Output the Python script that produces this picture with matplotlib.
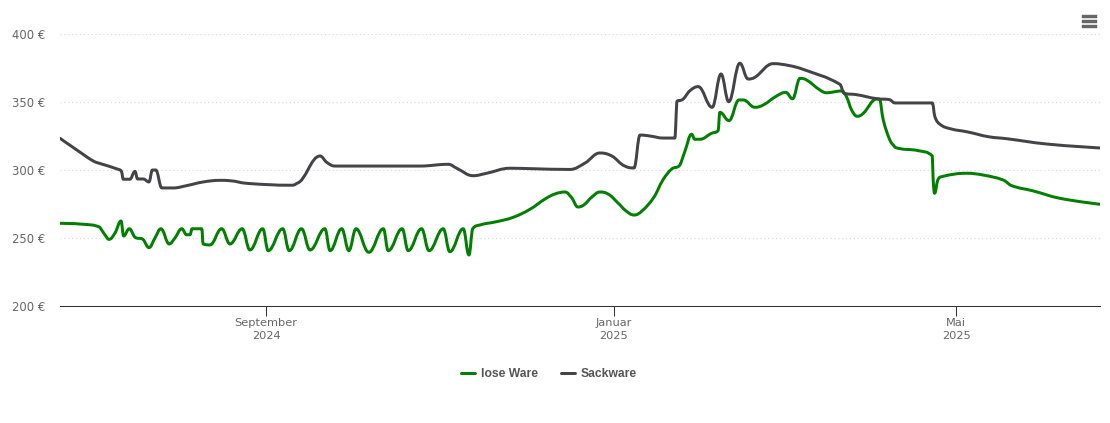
"""
plot.py - Preisverlauf lose Ware / Sackware
"""
import numpy as np
import pandas as pd
import matplotlib
matplotlib.use('Agg')
import matplotlib.pyplot as plt
import matplotlib.dates as mdates
from matplotlib.lines import Line2D
from matplotlib.patches import PathPatch, FancyBboxPatch
from matplotlib.path import Path

plt.rcParams['font.family'] = ['DejaVu Sans']

START = pd.Timestamp('2024-06-20 18:00')
END_DAY = 364.7

# (Tage seit START, Preis in Euro)
LOSE_WARE = [
    (0, 260.8), (8.1, 260.1), (14.0, 257.9), (15.8, 252.2), (17.2, 249.0), (19.3, 253.7),
    (21.4, 262.5), (22.3, 251.5), (24.3, 256.8), (26.3, 250.5), (29.1, 249.0), (31.2, 242.9),
    (33.3, 250.0), (35.4, 256.8), (38.3, 245.6), (40.3, 250.0), (42.7, 256.8), (44.4, 252.4),
    (45.6, 252.4), (46.3, 256.8), (49.7, 256.8), (50.2, 245.6), (52.6, 244.9), (56.7, 256.8),
    (59.6, 245.6), (63.9, 256.8), (66.6, 241.2), (71.1, 256.8), (73.0, 240.7), (78.1, 256.8),
    (80.4, 240.7), (84.7, 256.8), (87.7, 241.2), (92.9, 256.8), (94.7, 240.7), (98.8, 256.8),
    (101.3, 240.7), (103.8, 256.8), (108.3, 239.5), (113.4, 256.8), (115.1, 240.7), (120.0, 256.8),
    (122.1, 240.7), (126.8, 256.8), (129.4, 240.7), (134.4, 256.8), (136.7, 239.9), (141.4, 256.8),
    (143.4, 237.5), (144.7, 256.8), (147.3, 259.6), (153.1, 262.0), (158.9, 265.2), (164.8, 271.1),
    (170.1, 278.7), (173.6, 282.4), (177.1, 283.8), (179.5, 279.4), (181.6, 272.8), (183.7, 274.3),
    (186.5, 280.1), (189.3, 283.8), (192.1, 282.4), (195.7, 275.7), (198.5, 269.9), (201.3, 266.9),
    (204.1, 269.9), (208.3, 280.1), (211.4, 292.6), (214.5, 300.7), (217.4, 303.7), (219.1, 313.5),
    (221.5, 326.3), (222.6, 322.6), (224.4, 322.6), (228.5, 327.0), (230.8, 328.9), (231.4, 342.4),
    (234.6, 336.3), (238.1, 351.5), (239.6, 351.5), (243.7, 346.1), (246.6, 347.8), (251.3, 354.4),
    (254.5, 357.1), (256.9, 352.4), (259.5, 367.4), (261.8, 366.2), (266.5, 358.8), (268.8, 356.8),
    (274.1, 358.1), (275.8, 353.9), (277.6, 344.1), (279.6, 339.5), (281.7, 341.7), (286.4, 352.2),
    (287.3, 352.2), (288.7, 336.8), (291.0, 322.1), (292.8, 316.7), (301.0, 314.2), (305.9, 310.3),
    (306.2, 292.6), (306.7, 282.9), (307.8, 292.6), (309.2, 295.1), (317.9, 297.6), (323.7, 296.3),
    (330.8, 292.6), (333.7, 288.5), (341.3, 284.6), (350.6, 279.2), (364.7, 274.8),
]
SACKWARE = [
    (0, 323.3), (6.4, 314.0), (11.7, 306.6), (14.6, 304.4), (20.4, 300.5), (21.6, 298.8),
    (22.2, 293.2), (24.5, 293.2), (26.3, 299.0), (27.2, 293.4), (29.2, 293.4), (31.2, 291.2),
    (32.4, 300.0), (33.6, 300.0), (35.7, 286.8), (39.7, 286.8), (44.4, 288.5), (50.2, 291.2),
    (56.1, 292.4), (59.6, 292.1), (65.5, 290.2), (81.2, 288.8), (83.0, 290.2), (91.2, 310.3),
    (93.5, 305.7), (96.4, 302.9), (126.2, 302.9), (136.2, 304.2), (139.1, 301.3), (144.9, 295.8),
    (149.6, 297.6), (157.8, 301.3), (164.8, 301.0), (178.8, 300.4), (184.1, 305.1), (189.3, 312.5),
    (193.5, 310.3), (198.1, 302.9), (201.3, 301.5), (203.4, 325.7), (206.9, 325.0), (211.5, 323.5),
    (215.6, 323.5), (216.4, 350.7), (218.0, 351.5), (220.9, 358.3), (223.8, 361.3), (228.7, 346.1),
    (231.8, 370.6), (234.5, 350.2), (238.4, 378.5), (241.3, 366.9), (243.7, 368.2), (250.1, 378.2),
    (255.9, 376.7), (260.6, 374.0), (273.5, 363.0), (274.9, 356.4), (279.3, 355.4), (286.4, 352.4),
    (291.0, 351.7), (292.8, 349.3), (305.9, 349.3), (306.8, 339.2), (308.6, 333.6), (312.1, 330.4),
    (318.5, 327.9), (325.5, 324.5), (332.0, 323.0), (346.0, 319.1), (364.7, 316.2),
]

GREEN = '#007f00'
DARK = '#434348'
TEXT = '#666666'


def spline_path(x, y, smoothing=1.5):
    """Kurve durch alle Punkte, Kontrollpunkte wie bei einem Highcharts-Spline"""
    denom = smoothing + 1
    verts = [(x[0], y[0])]
    codes = [Path.MOVETO]
    prev_right = (x[0], y[0])
    for i in range(1, len(x)):
        if i < len(x) - 1:
            lx = (smoothing * x[i] + x[i - 1]) / denom
            ly = (smoothing * y[i] + y[i - 1]) / denom
            rx = (smoothing * x[i] + x[i + 1]) / denom
            ry = (smoothing * y[i] + y[i + 1]) / denom
            corr = (ry - ly) * (rx - x[i]) / (rx - lx) + y[i] - ry
            ly += corr
            ry += corr
            # an Spitzen flach bleiben, kein Überschwingen
            if ly > max(y[i - 1], y[i]):
                ly = max(y[i - 1], y[i])
                ry = 2 * y[i] - ly
            elif ly < min(y[i - 1], y[i]):
                ly = min(y[i - 1], y[i])
                ry = 2 * y[i] - ly
            if ry > max(y[i], y[i + 1]):
                ry = max(y[i], y[i + 1])
                ly = 2 * y[i] - ry
            elif ry < min(y[i], y[i + 1]):
                ry = min(y[i], y[i + 1])
                ly = 2 * y[i] - ry
        else:
            lx, ly = x[i], y[i]
            rx, ry = x[i], y[i]
        verts += [prev_right, (lx, ly), (x[i], y[i])]
        codes += [Path.CURVE4] * 3
        prev_right = (rx, ry)
    return Path(verts, codes)


def draw_series(ax, data, color):
    days, price = np.array(data).T
    dates = START + pd.to_timedelta(days, unit='D')
    path = spline_path(mdates.date2num(dates), price)
    patch = PathPatch(path, facecolor='none', edgecolor=color, linewidth=2.15,
                      capstyle='round', joinstyle='round', zorder=3)
    ax.add_patch(patch)


fig = plt.figure(figsize=(11.10, 4.23), dpi=100)
ax = fig.add_axes([60 / 1110, 1 - 306 / 423, 1040 / 1110, 272 / 423])

draw_series(ax, LOSE_WARE, GREEN)
draw_series(ax, SACKWARE, DARK)

ax.set_xlim(START, START + pd.Timedelta(days=END_DAY))
ax.set_ylim(200, 400)

ax.set_yticks([200, 250, 300, 350, 400])
ax.set_yticklabels([f'{v} €' for v in [200, 250, 300, 350, 400]])
ax.grid(axis='y', color='#d8d8d8', linewidth=0.8, linestyle=(0, (1, 2.5)))
ax.yaxis.get_gridlines()[0].set_visible(False)
ax.set_axisbelow(True)
ax.tick_params(axis='y', length=0, pad=10.5, labelsize=8.4, labelcolor=TEXT)

ticks = pd.to_datetime(['2024-09-01', '2025-01-01', '2025-05-01'])
ax.set_xticks(ticks)
ax.set_xticklabels(['September\n2024', 'Januar\n2025', 'Mai\n2025'], linespacing=1.4)
ax.tick_params(axis='x', length=7.0, width=0.75, color='#333333', pad=1.5,
               labelsize=8.2, labelcolor=TEXT)

for side in ['top', 'left', 'right']:
    ax.spines[side].set_visible(False)
ax.spines['bottom'].set_color('#333333')
ax.spines['bottom'].set_linewidth(0.75)

handles = [Line2D([], [], color=GREEN, linewidth=2.15, solid_capstyle='round'),
           Line2D([], [], color=DARK, linewidth=2.15, solid_capstyle='round')]
fig.legend(handles, ['lose Ware', 'Sackware'], ncol=2, frameon=False,
           loc='center', bbox_to_anchor=(549 / 1110, 1 - 374 / 423),
           prop={'family': 'Liberation Sans', 'size': 8.7, 'weight': 'bold'}, labelcolor='#555555',
           handlelength=1.15, handletextpad=0.5, columnspacing=1.9)

# Menü-Symbol oben rechts
for top in [15, 20, 25]:
    fig.add_artist(FancyBboxPatch((1081.5 / 1110, 1 - (top + 2.7) / 423), 15 / 1110, 2.7 / 423,
                                  boxstyle='square,pad=0', transform=fig.transFigure,
                                  facecolor='#666666', edgecolor='#666666', linewidth=0.3))

plt.savefig('out.png', dpi=100)
